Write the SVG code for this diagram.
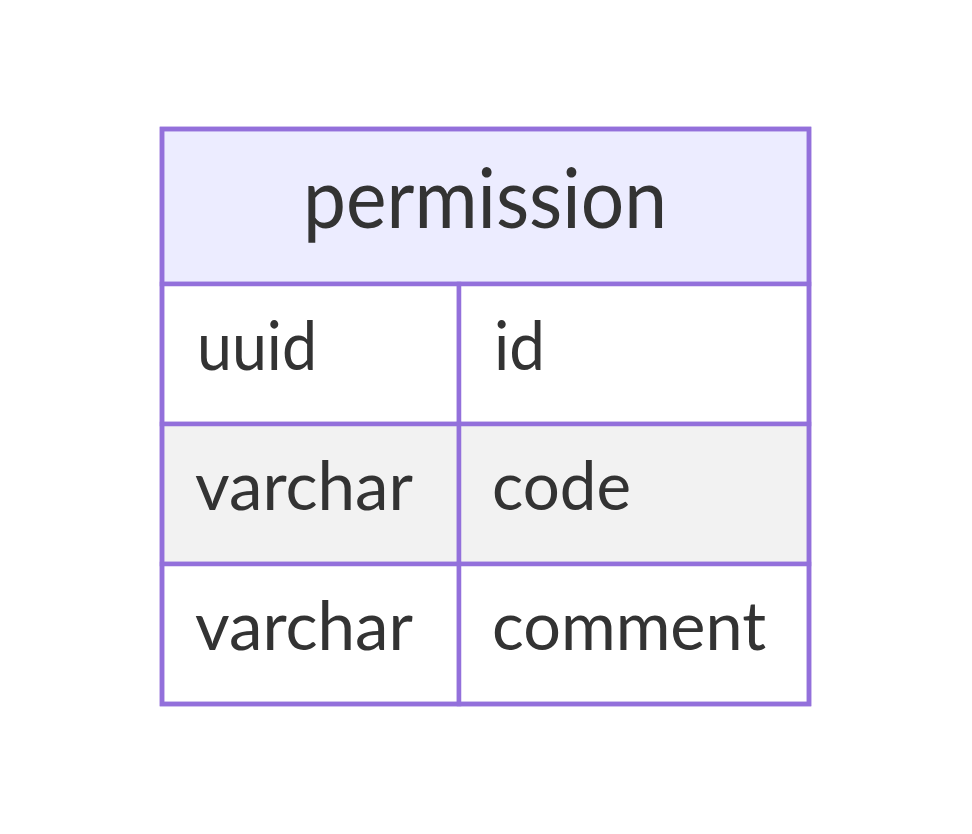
<svg xmlns="http://www.w3.org/2000/svg" width="972" height="834" viewBox="0 0 972 834">
<style>
.box{stroke:#9370DB;stroke-width:4.5}
.hdr{fill:#ECECFF}
.odd{fill:#FFFFFF}
.even{fill:#F2F2F2}
.t{font-family:Lato,"Open Sans","DejaVu Sans",sans-serif;fill:#333333}
.h{font-size:84px}
.r{font-size:67px}
</style>
<rect width="972" height="834" fill="#FFFFFF"/>
<g id="connectors"></g>
<g id="permission">
<rect class="box hdr" x="162" y="129" width="647" height="155"/>
<rect class="box odd" x="162" y="284" width="297" height="140"/>
<rect class="box odd" x="459" y="284" width="350" height="140"/>
<rect class="box even" x="162" y="424" width="297" height="140"/>
<rect class="box even" x="459" y="424" width="350" height="140"/>
<rect class="box odd" x="162" y="564" width="297" height="140"/>
<rect class="box odd" x="459" y="564" width="350" height="140"/>
<rect x="162" y="129" width="647" height="575" fill="none" class="box"/>
<text class="t h" x="303" y="228" textLength="364" lengthAdjust="spacingAndGlyphs">permission</text>
<text class="t r" x="197" y="370" textLength="120" lengthAdjust="spacingAndGlyphs">uuid</text>
<text class="t r" x="494" y="370" textLength="51" lengthAdjust="spacingAndGlyphs">id</text>
<text class="t r" x="195" y="510" textLength="218" lengthAdjust="spacingAndGlyphs">varchar</text>
<text class="t r" x="492" y="510" textLength="139" lengthAdjust="spacingAndGlyphs">code</text>
<text class="t r" x="195" y="650" textLength="218" lengthAdjust="spacingAndGlyphs">varchar</text>
<text class="t r" x="492" y="650" textLength="274" lengthAdjust="spacingAndGlyphs">comment</text>
</g>
</svg>
